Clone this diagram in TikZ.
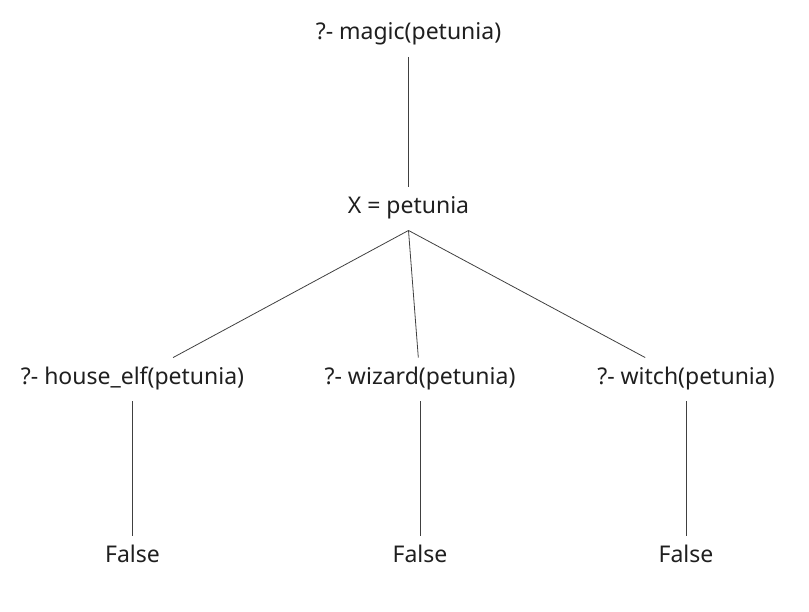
\documentclass[tikz,border=0pt]{standalone}
\usepackage{fontspec}
\setmainfont{Noto Sans}
\begin{document}
\begin{tikzpicture}[x=1pt,y=-1pt,
  lbl/.style={font=\fontsize{23pt}{27pt}\selectfont, text=black!88,
    text height=16pt, text depth=6.5pt, inner ysep=10.5pt, inner xsep=3pt},
  conn/.style={draw=black!75, line width=0.8pt}]
\useasboundingbox (0,0) rectangle (809,611);
\node[lbl] (top) at (408.5,35) {?- magic(petunia)};
\node[lbl] (x) at (408.5,208.5) {X = petunia};
\node[lbl] (elf) at (132.5,379.5) {?- house\_elf(petunia)};
\node[lbl] (wiz) at (420,379.5) {?- wizard(petunia)};
\node[lbl] (wit) at (686,379.5) {?- witch(petunia)};
\node[lbl] (f1) at (132.5,558) {False};
\node[lbl] (f2) at (420,558) {False};
\node[lbl] (f3) at (686,558) {False};
\draw[conn] (top.south) -- (x.north);
\draw[conn] (x.south) -- (elf);
\draw[conn] (x.south) -- (wiz);
\draw[conn] (x.south) -- (wit);
\draw[conn] (elf.south) -- (f1.north);
\draw[conn] (wiz.south) -- (f2.north);
\draw[conn] (wit.south) -- (f3.north);
\end{tikzpicture}
\end{document}
